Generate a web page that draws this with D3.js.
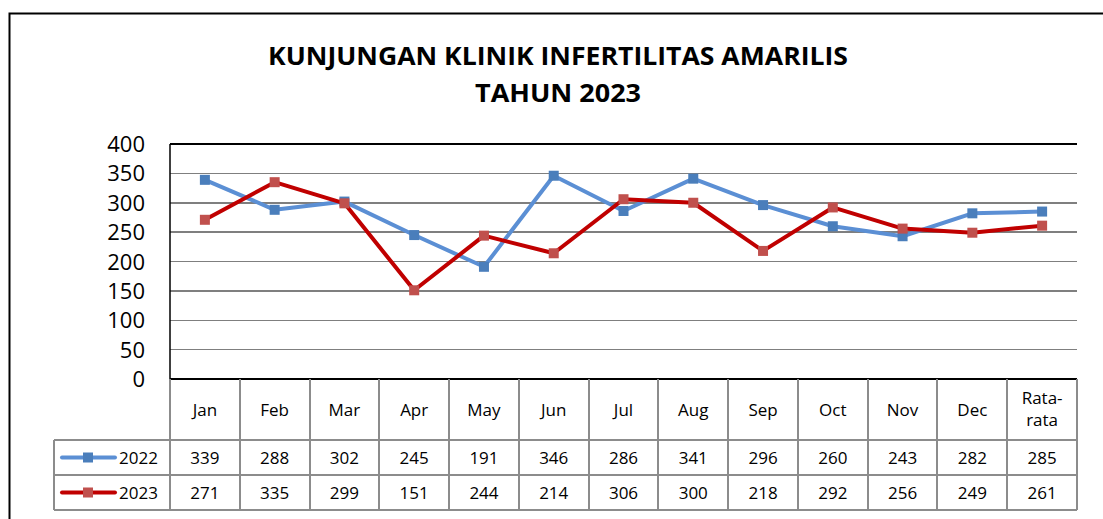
<!DOCTYPE html>
<html lang="id">
  <head>
    <meta charset="utf-8">
    <title>Kunjungan Klinik Infertilitas Amarilis</title>
    <style>
      body {margin: 0; background: #fff;}
      svg {display: block;}
      text {font-family: "Open Sans", "DejaVu Sans", sans-serif; fill: #000;}
      .title {font-size: 25px; font-weight: bold; text-anchor: middle;}
      .ytick {font-size: 22px; text-anchor: end;}
      .cell {font-size: 17px; text-anchor: middle;}
      .grid line {stroke: #7f7f7f; stroke-width: 1.5px; shape-rendering: crispEdges;}
      .tbl line {stroke: #8c8c8c; stroke-width: 2px; shape-rendering: crispEdges;}
    </style>
    <script src="https://d3js.org/d3.v7.min.js"></script>
  </head>
  <body>
    <script type="text/javascript">
      // data
      var categories = ["Jan", "Feb", "Mar", "Apr", "May", "Jun", "Jul", "Aug", "Sep", "Oct", "Nov", "Dec", "Rata-rata"];
      var series2022 = [339, 288, 302, 245, 191, 346, 286, 341, 296, 260, 243, 282, 285];
      var series2023 = [271, 335, 299, 151, 244, 214, 306, 300, 218, 292, 256, 249, 261];
      var yTicks = [0, 50, 100, 150, 200, 250, 300, 350, 400];

      var seriesList = [
        {name: "2022", values: series2022, line: "#5b8fd4", marker: "#4a7ebb"},
        {name: "2023", values: series2023, line: "#c00000", marker: "#c0504d"}
      ];

      var width = 1103, height = 519;
      var plotLeft = 170, plotRight = 1077, plotTop = 144, plotBottom = 379;
      var headRow = 61, dataRow = 35, legendLeft = 54;

      var svg = d3.select("body").append("svg")
        .attr("width", width)
        .attr("height", height);

      // outer chart border (left and top visible)
      svg.append("path")
        .attr("d", "M9.5," + height + "V13.5H" + width)
        .attr("fill", "none")
        .attr("stroke", "#000")
        .attr("stroke-width", 2);

      svg.append("text").attr("class", "title")
        .attr("x", 558).attr("y", 65)
        .attr("textLength", 580).attr("lengthAdjust", "spacingAndGlyphs")
        .text("KUNJUNGAN KLINIK INFERTILITAS AMARILIS");
      svg.append("text").attr("class", "title")
        .attr("x", 558).attr("y", 102)
        .attr("textLength", 166).attr("lengthAdjust", "spacingAndGlyphs")
        .text("TAHUN 2023");

      var x = d3.scaleBand().domain(categories).range([plotLeft, plotRight]);
      var y = d3.scaleLinear().domain([0, 400]).range([plotBottom, plotTop]);

      // gridlines
      svg.append("g").attr("class", "grid")
        .selectAll("line").data(yTicks).enter().append("line")
        .attr("x1", plotLeft).attr("x2", plotRight)
        .attr("y1", function(d) { return y(d); })
        .attr("y2", function(d) { return y(d); })
        .style("stroke", function(d) { return d == 0 || d == 400 ? "#000" : null; });

      svg.append("line")
        .attr("x1", plotLeft).attr("x2", plotLeft)
        .attr("y1", plotTop).attr("y2", plotBottom)
        .attr("stroke", "#000").attr("stroke-width", 1.5);

      svg.append("g").selectAll("text").data(yTicks).enter().append("text")
        .attr("class", "ytick")
        .attr("x", 145)
        .attr("y", function(d) { return y(d) + 8; })
        .text(function(d) { return d; });

      // data table
      var tbl = svg.append("g").attr("class", "tbl");
      var rowTop = plotBottom + headRow;
      var tableBottom = rowTop + dataRow * 2;

      var colEdges = categories.map(function(c) { return x(c); }).concat([plotRight]);
      tbl.selectAll(".vcol").data(colEdges).enter().append("line")
        .attr("x1", function(d) { return d; }).attr("x2", function(d) { return d; })
        .attr("y1", plotBottom).attr("y2", tableBottom);
      tbl.append("line").attr("x1", legendLeft).attr("x2", legendLeft)
        .attr("y1", rowTop).attr("y2", tableBottom);
      [rowTop, rowTop + dataRow, tableBottom].forEach(function(yy) {
        tbl.append("line").attr("x1", legendLeft).attr("x2", plotRight)
          .attr("y1", yy).attr("y2", yy);
      });

      // header cells
      svg.append("g").selectAll("text").data(categories).enter().append("text")
        .attr("class", "cell")
        .attr("x", function(d) { return x(d) + x.bandwidth() / 2; })
        .attr("y", function(d) { return d.indexOf("-") > 0 ? plotBottom + 25 : plotBottom + 37; })
        .each(function(d) {
          var t = d3.select(this);
          if (d.indexOf("-") > 0) {
            var cx = x(d) + x.bandwidth() / 2;
            t.append("tspan").attr("x", cx).text(d.slice(0, d.indexOf("-") + 1));
            t.append("tspan").attr("x", cx).attr("dy", 22).text(d.slice(d.indexOf("-") + 1));
          } else {
            t.text(d);
          }
        });

      var line = d3.line()
        .x(function(d, i) { return x(categories[i]) + x.bandwidth() / 2; })
        .y(function(d) { return y(d); });

      seriesList.forEach(function(s, si) {
        var cy = rowTop + dataRow * si + dataRow / 2;

        // legend key
        svg.append("line")
          .attr("x1", 62).attr("x2", 115).attr("y1", cy).attr("y2", cy)
          .attr("stroke", s.line).attr("stroke-width", 4).attr("stroke-linecap", "round");
        svg.append("rect")
          .attr("x", 83).attr("y", cy - 5).attr("width", 10).attr("height", 10)
          .attr("fill", s.marker);
        svg.append("text").attr("x", 119).attr("y", cy + 6)
          .style("font-size", "17px").text(s.name);

        svg.append("g").selectAll("text").data(s.values).enter().append("text")
          .attr("class", "cell")
          .attr("x", function(d, i) { return x(categories[i]) + x.bandwidth() / 2; })
          .attr("y", cy + 6)
          .text(function(d) { return d; });

        // series line and markers
        svg.append("path").datum(s.values)
          .attr("d", line)
          .attr("fill", "none")
          .attr("stroke", s.line)
          .attr("stroke-width", 4)
          .attr("stroke-linejoin", "round");

        svg.append("g").selectAll("rect").data(s.values).enter().append("rect")
          .attr("x", function(d, i) { return x(categories[i]) + x.bandwidth() / 2 - 5; })
          .attr("y", function(d) { return y(d) - 5; })
          .attr("width", 10).attr("height", 10)
          .attr("fill", s.marker);
      });
    </script>
  </body>
</html>
